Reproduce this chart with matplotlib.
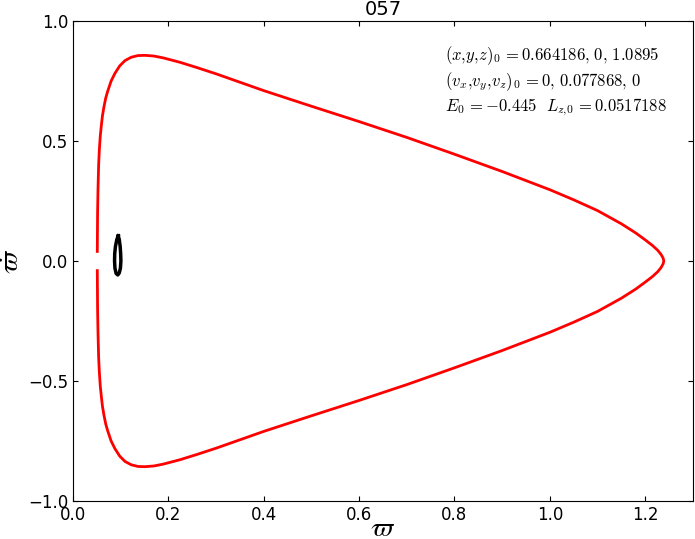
import matplotlib
matplotlib.use('Agg')
import matplotlib.pyplot as plt
import numpy as np

plt.rcParams['mathtext.fontset'] = 'cm'
plt.rcParams['font.size'] = 12
plt.rcParams['xtick.direction'] = 'in'
plt.rcParams['ytick.direction'] = 'in'
plt.rcParams['xtick.top'] = True
plt.rcParams['ytick.right'] = True

# orbit in the meridional plane
up_x = [0.051, 0.0516, 0.0525, 0.0538, 0.0552, 0.0572, 0.0595, 0.0618, 0.065, 0.0688,
        0.0728, 0.080, 0.088, 0.098, 0.109, 0.122, 0.136, 0.151, 0.170, 0.19, 0.2244,
        0.26, 0.30, 0.40, 0.50, 0.60, 0.70, 0.80, 0.90, 1.00, 1.05, 1.10, 1.15, 1.18,
        1.20, 1.215, 1.226, 1.233, 1.2375, 1.239]
up_y = [0.04, 0.20, 0.30, 0.40, 0.46, 0.52, 0.565, 0.605, 0.643, 0.680,
        0.7075, 0.750, 0.782, 0.813, 0.835, 0.849, 0.856, 0.857, 0.854, 0.846, 0.828,
        0.806, 0.780, 0.710, 0.645, 0.581, 0.515, 0.445, 0.373, 0.297, 0.255, 0.210, 0.155, 0.117,
        0.088, 0.065, 0.045, 0.028, 0.012, 0.0]
lo_x = [1.2375, 1.233, 1.226, 1.215, 1.20, 1.18, 1.15, 1.10, 1.05, 1.00, 0.90, 0.80,
        0.70, 0.60, 0.50, 0.40, 0.30, 0.26, 0.2244, 0.19, 0.170, 0.151, 0.136, 0.122,
        0.109, 0.098, 0.088, 0.080, 0.0728, 0.0688, 0.065, 0.0618, 0.0595, 0.0572,
        0.0552, 0.0538, 0.0525, 0.0516, 0.051]
lo_y = [-0.012, -0.028, -0.045, -0.065, -0.088, -0.117, -0.155, -0.210, -0.255, -0.297,
        -0.373, -0.445, -0.515, -0.581, -0.645, -0.710, -0.780, -0.806, -0.828, -0.846,
        -0.854, -0.857, -0.856, -0.849, -0.835, -0.813, -0.782, -0.750, -0.7075, -0.680,
        -0.643, -0.605, -0.565, -0.52, -0.46, -0.40, -0.30, -0.20, -0.04]

# small librating loop
loop_x = [0.095, 0.097, 0.099, 0.100, 0.1005, 0.0995, 0.097, 0.094, 0.0905, 0.088,
          0.0872, 0.0875, 0.089, 0.092, 0.095]
loop_y = [0.105, 0.09, 0.06, 0.03, 0.0, -0.03, -0.05, -0.058, -0.052, -0.03,
          0.0, 0.03, 0.06, 0.09, 0.105]

fig = plt.figure(figsize=(6.95, 5.39), dpi=100)
ax = fig.add_axes([0.105, 0.0705, 0.892, 0.8905])

ax.plot(up_x + lo_x, up_y + lo_y, color='red', lw=2)
ax.plot(loop_x, loop_y, color='black', lw=2.5)

ax.set_xlim(0, 1.3)
ax.set_ylim(-1, 1)
ax.set_xticks(np.arange(0, 1.3, 0.2))
ax.set_yticks(np.arange(-1, 1.01, 0.5))
ax.set_title('057', fontsize=14, pad=4)
ax.set_xlabel(r'$\varpi$', fontsize=20, labelpad=-7)
ax.set_ylabel(r'$\dot{\varpi}$', fontsize=20, labelpad=2)

info = (r'$(x{,}y{,}z)_0\,=0.664186{,}\ 0{,}\ 1.0895$' + '\n'
        r'$(v_x{,}v_y{,}v_z)_0\,=0{,}\ 0.077868{,}\ 0$' + '\n'
        r'$E_0\,=-0.445\ \ L_{z{,}0}\,=0.0517188$')
ax.text(0.78, 0.905, info, fontsize=12, va='top', ha='left', linespacing=1.25)

fig.savefig('out.png', dpi=100)
